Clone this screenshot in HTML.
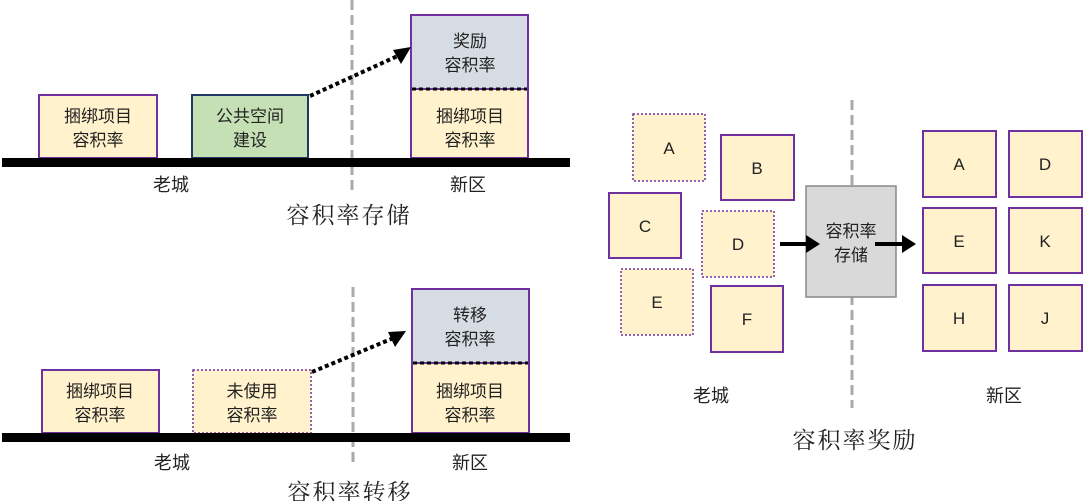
<!DOCTYPE html>
<html><head><meta charset="utf-8"><style>
html,body{margin:0;padding:0;background:#fff;}
svg{display:block;}
.t{font-family:"Liberation Sans","Noto Sans CJK SC",sans-serif;font-size:17px;fill:#222;text-anchor:middle;}
.d{font-family:"Liberation Sans","Noto Sans CJK SC",sans-serif;font-size:18px;fill:#222;text-anchor:middle;}
.l{font-family:"Liberation Sans","Noto Sans CJK SC",sans-serif;font-size:17px;fill:#222;text-anchor:middle;}
.h{font-family:"Liberation Serif","Noto Serif CJK SC",serif;font-size:23px;fill:#222;text-anchor:middle;letter-spacing:2px;}
</style></head><body>
<svg width="1085" height="501" viewBox="0 0 1085 501" xmlns="http://www.w3.org/2000/svg">
<!-- TOP LEFT -->
<line x1="352" y1="0" x2="352" y2="190" stroke="#aaa" stroke-width="3" stroke-dasharray="10,5"/>
<rect x="39" y="95" width="118" height="63" fill="#fff2cc" stroke="#7030a0" stroke-width="2"/>
<text class="t" x="98" y="122">捆绑项目</text><text class="t" x="98" y="146">容积率</text>
<rect x="192" y="95" width="116" height="63" fill="#c5e0b4" stroke="#1f3864" stroke-width="2"/>
<text class="t" x="250" y="122">公共空间</text><text class="t" x="250" y="146">建设</text>
<rect x="411" y="15" width="117" height="74" fill="#d6dce4" stroke="#7030a0" stroke-width="2"/>
<rect x="411" y="89" width="117" height="69" fill="#fff2cc" stroke="#7030a0" stroke-width="2"/>
<line x1="412" y1="89" x2="527" y2="89" stroke="#000" stroke-width="3" stroke-dasharray="4,3"/>
<text class="t" x="470" y="47">奖励</text><text class="t" x="470" y="71">容积率</text>
<text class="t" x="470" y="122">捆绑项目</text><text class="t" x="470" y="146">容积率</text>
<rect x="2" y="158" width="568" height="9" fill="#000"/>
<line x1="310" y1="96" x2="402" y2="54" stroke="#000" stroke-width="4" stroke-dasharray="4,3"/>
<path d="M411,47 L393,50 L401,64 z" fill="#000"/>
<text class="d" x="171" y="191">老城</text><text class="d" x="468" y="191">新区</text>
<text class="h" x="349" y="223">容积率存储</text>
<!-- BOTTOM LEFT -->
<line x1="353" y1="287" x2="353" y2="463" stroke="#aaa" stroke-width="3" stroke-dasharray="10,5"/>
<rect x="42" y="370" width="117" height="63" fill="#fff2cc" stroke="#7030a0" stroke-width="2"/>
<text class="t" x="100" y="397">捆绑项目</text><text class="t" x="100" y="421">容积率</text>
<rect x="193" y="370" width="118" height="63" fill="#fff2cc" stroke="#7030a0" stroke-width="1.5" stroke-dasharray="2,2"/>
<text class="t" x="252" y="397">未使用</text><text class="t" x="252" y="421">容积率</text>
<rect x="412" y="289" width="117" height="74" fill="#d6dce4" stroke="#7030a0" stroke-width="2"/>
<rect x="412" y="363" width="117" height="70" fill="#fff2cc" stroke="#7030a0" stroke-width="2"/>
<line x1="413" y1="363" x2="528" y2="363" stroke="#000" stroke-width="3" stroke-dasharray="4,3"/>
<text class="t" x="470" y="321">转移</text><text class="t" x="470" y="345">容积率</text>
<text class="t" x="470" y="397">捆绑项目</text><text class="t" x="470" y="421">容积率</text>
<rect x="2" y="433" width="568" height="9" fill="#000"/>
<line x1="312" y1="372" x2="396" y2="337" stroke="#000" stroke-width="4" stroke-dasharray="4,3"/>
<path d="M406,331 L388,332 L395,347 z" fill="#000"/>
<text class="d" x="172" y="469">老城</text><text class="d" x="470" y="469">新区</text>
<text class="h" x="350" y="500">容积率转移</text>
<!-- RIGHT -->
<line x1="852" y1="100" x2="852" y2="408" stroke="#aaa" stroke-width="3" stroke-dasharray="10,5"/>
<g fill="#fff2cc" stroke="#7030a0">
<rect x="633" y="114" width="72" height="67" stroke-width="1.5" stroke-dasharray="2,2"/>
<rect x="721" y="135" width="73" height="65" stroke-width="2"/>
<rect x="609" y="193" width="72" height="65" stroke-width="2"/>
<rect x="702" y="211" width="72" height="66" stroke-width="1.5" stroke-dasharray="2,2"/>
<rect x="621" y="269" width="72" height="66" stroke-width="1.5" stroke-dasharray="2,2"/>
<rect x="711" y="286" width="72" height="66" stroke-width="2"/>
<rect x="923" y="131" width="73" height="66" stroke-width="2"/>
<rect x="1009" y="131" width="73" height="66" stroke-width="2"/>
<rect x="923" y="208" width="73" height="65" stroke-width="2"/>
<rect x="1009" y="208" width="73" height="65" stroke-width="2"/>
<rect x="923" y="285" width="73" height="66" stroke-width="2"/>
<rect x="1009" y="285" width="73" height="66" stroke-width="2"/>
</g>
<rect x="806" y="186" width="90" height="111" fill="#d9d9d9" stroke="#888" stroke-width="1.5"/>
<text class="t" x="851" y="237">容积率</text><text class="t" x="851" y="261">存储</text>
<line x1="780" y1="244" x2="808" y2="244" stroke="#000" stroke-width="4"/>
<path d="M820,244 L806,235 L806,253 z" fill="#000"/>
<line x1="875" y1="244" x2="904" y2="244" stroke="#000" stroke-width="4"/>
<path d="M916,244 L902,235 L902,253 z" fill="#000"/>
<text class="l" x="669" y="154">A</text><text class="l" x="757" y="174">B</text>
<text class="l" x="645" y="232">C</text><text class="l" x="738" y="250">D</text>
<text class="l" x="657" y="308">E</text><text class="l" x="747" y="325">F</text>
<text class="l" x="959" y="170">A</text><text class="l" x="1045" y="170">D</text>
<text class="l" x="959" y="247">E</text><text class="l" x="1045" y="247">K</text>
<text class="l" x="959" y="324">H</text><text class="l" x="1045" y="324">J</text>
<text class="d" x="711" y="402">老城</text><text class="d" x="1004" y="402">新区</text>
<text class="h" x="855" y="448">容积率奖励</text>
</svg>
</body></html>
